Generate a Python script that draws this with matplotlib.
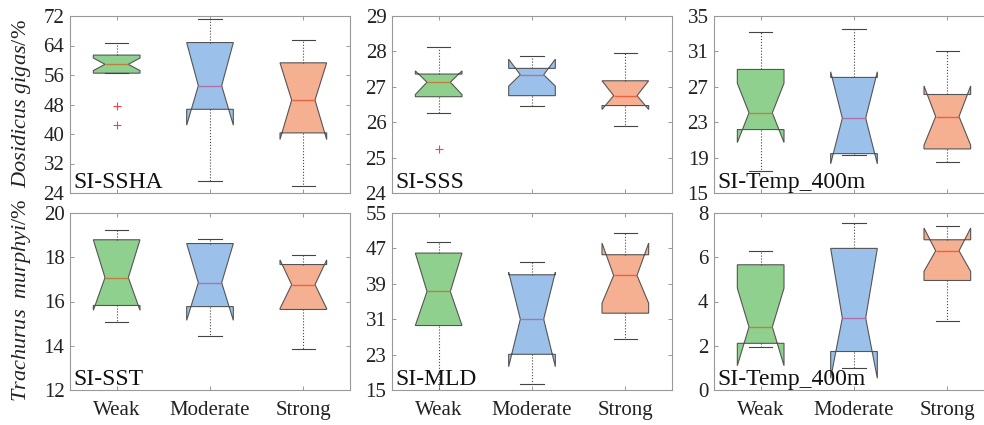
import matplotlib
matplotlib.use("Agg")
import matplotlib.pyplot as plt

plt.rcParams['font.family'] = 'Liberation Serif'
plt.rcParams['mathtext.fontset'] = 'custom'
plt.rcParams['mathtext.rm'] = 'Liberation Serif'
plt.rcParams['mathtext.it'] = 'Liberation Serif:italic'

categories = ["Weak", "Moderate", "Strong"]

# rows: Weak, Moderate, Strong -> [whislo, q1, med, q3, whishi, cilo, cihi]
ssha_stats = [[56.5, 56.5, 58.9, 61.4, 64.8, 57.2, 60.6],
              [27.3, 46.7, 53.1, 64.8, 71.2, 42.4, 64.8],
              [25.8, 40.3, 49.2, 59.3, 65.4, 38.5, 59.3]]
ssha_out = [[47.5, 42.5], [], []]

sss_stats = [[26.27, 26.72, 27.13, 27.36, 28.12, 26.78, 27.45],
             [26.45, 26.75, 27.34, 27.52, 27.87, 27.02, 27.78],
             [25.89, 26.47, 26.75, 27.17, 27.96, 26.36, 27.17]]
sss_out = [[25.25], [], []]

temp_top_stats = [[17.5, 22.17, 24.06, 28.96, 33.15, 20.7, 27.4],
                  [19.35, 19.45, 23.45, 28.06, 33.53, 18.3, 28.7],
                  [18.51, 19.98, 23.64, 26.13, 31.07, 20.4, 27.1]]

sst_stats = [[15.06, 15.82, 17.08, 18.79, 19.23, 15.6, 18.79],
             [14.42, 15.77, 16.85, 18.62, 18.83, 15.15, 18.62],
             [13.86, 15.64, 16.76, 17.67, 18.08, 15.68, 17.88]]

mld_stats = [[14.5, 29.57, 37.26, 45.94, 48.36, 29.57, 45.94],
             [16.28, 23.07, 31.0, 41.04, 43.98, 20.28, 41.6],
             [26.55, 32.36, 40.89, 45.57, 50.4, 34.6, 48.2]]

temp_bot_stats = [[1.93, 2.11, 2.85, 5.66, 6.29, 1.1, 4.6],
                  [0.98, 1.74, 3.25, 6.4, 7.56, 0.53, 6.4],
                  [3.12, 4.95, 6.29, 6.79, 7.41, 5.36, 7.32]]

panels = [
    ("SI-SSHA", ssha_stats, ssha_out, list(range(24, 73, 8))),
    ("SI-SSS", sss_stats, sss_out, list(range(24, 30))),
    ("SI-Temp_400m", temp_top_stats, None, list(range(15, 36, 4))),
    ("SI-SST", sst_stats, None, list(range(12, 21, 2))),
    ("SI-MLD", mld_stats, None, list(range(15, 56, 8))),
    ("SI-Temp_400m", temp_bot_stats, None, list(range(0, 9, 2))),
]

fill_colors = ['#8fd08f', '#9bc1ea', '#f5b092']
median_colors = ['#c0803c', '#b070a8', '#f06040']

W, H = 984, 425
fig = plt.figure(figsize=(W / 100, H / 100), dpi=100)

lefts = [70, 392, 714]
tops = [16, 213]
aw, ah = 280, 177

for i, (label, stats, outs, ticks) in enumerate(panels):
    row, col = divmod(i, 3)
    ax = fig.add_axes([lefts[col] / W, 1 - (tops[row] + ah) / H, aw / W, ah / H])
    bxp = []
    for j, s in enumerate(stats):
        bxp.append(dict(whislo=s[0], q1=s[1], med=s[2], q3=s[3], whishi=s[4],
                        cilo=s[5], cihi=s[6],
                        fliers=outs[j] if outs else [], label=categories[j]))
    art = ax.bxp(bxp, positions=[1, 2, 3], widths=0.5, capwidths=0.25,
                 shownotches=True, patch_artist=True,
                 boxprops=dict(edgecolor='#555555', linewidth=0.8),
                 whiskerprops=dict(color='#444444', linestyle=':', linewidth=0.8),
                 capprops=dict(color='#444444', linewidth=0.8),
                 medianprops=dict(linewidth=1.0),
                 flierprops=dict(marker='+', markeredgecolor='#ff4040',
                                 markersize=6, markeredgewidth=0.8))
    for j in range(3):
        art['boxes'][j].set_facecolor(fill_colors[j])
        art['medians'][j].set_color(median_colors[j])

    ax.set_xlim(0.5, 3.5)
    ax.set_ylim(ticks[0], ticks[-1])
    ax.set_yticks(ticks)
    ax.set_xticks([1, 2, 3])
    if row == 1:
        ax.set_xticklabels(categories)
    else:
        ax.set_xticklabels([])
    ax.tick_params(direction='in', length=3, width=0.6, color='#888888',
                   labelsize=15, labelcolor='#222222', top=True, right=True, pad=4)
    ax.tick_params(axis='x', pad=8)
    for sp in ax.spines.values():
        sp.set_color('#999999')
        sp.set_linewidth(0.8)
    ax.text(0.012, 0.0, label, transform=ax.transAxes, ha='left', va='bottom',
            fontsize=17, color='#111111')

fig.text(22 / W, 1 - 104 / H, r'$\mathit{Dosidicus\ gigas}$/%', rotation=90,
         ha='center', va='center', fontsize=16, color='#222222')
fig.text(22 / W, 1 - 300 / H, r'$\mathit{Trachurus\ \ murphyi}$/%', rotation=90,
         ha='center', va='center', fontsize=16, color='#222222')

fig.savefig("out.png", dpi=100)
